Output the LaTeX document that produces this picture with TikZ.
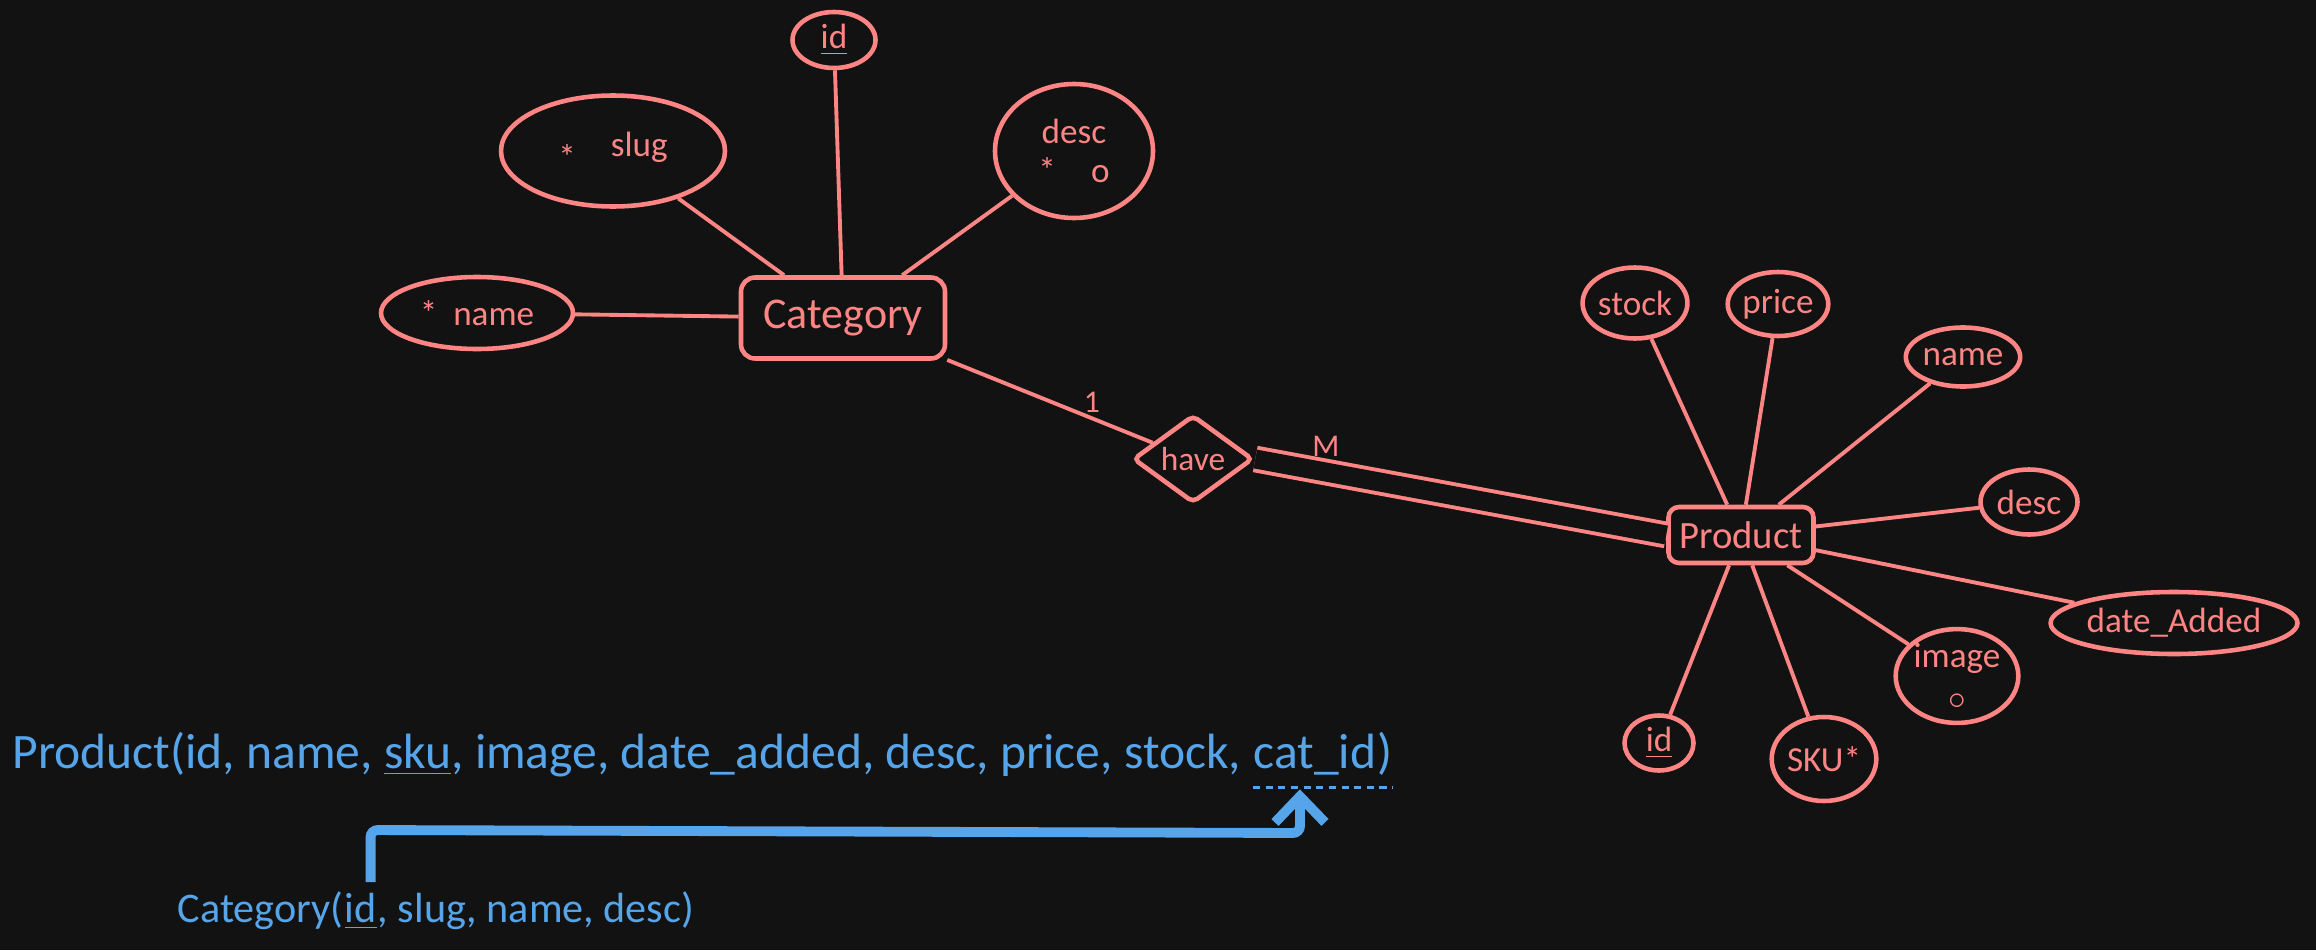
\documentclass[tikz,border=0pt]{standalone}
\usepackage{fontspec}
\setmainfont{Carlito}
\usepackage{xcolor}
\usepackage{tikz}
\usetikzlibrary{arrows.meta, positioning, shapes.geometric}
\definecolor{bg}{HTML}{121212}
\definecolor{erred}{HTML}{FF8585}
\definecolor{erblue}{HTML}{56A5EA}

\begin{document}
\begin{tikzpicture}[x=1mm, y=1mm, font=\fontsize{10}{11}\selectfont,
  ent/.style={draw=erred, text=erred, line width=1.3pt, rounded corners=4pt,
              inner sep=0pt},
  attr/.style={ellipse, draw=erred, text=erred, line width=1.3pt, inner sep=0pt,
               align=center},
  rel/.style={diamond, draw=erred, text=erred, line width=1.3pt, rounded corners=1.5pt,
              minimum width=12mm, minimum height=8.7mm, inner sep=0pt},
  ln/.style={erred, line width=1.1pt},
  card/.style={text=erred, font=\fontsize{9}{10}\selectfont},
  schema/.style={text=erblue, anchor=base west, inner sep=0pt},
  fk/.style={-{Straight Barb[length=2.6mm, width=5mm]}, erblue, line width=2.8pt,
             rounded corners=2pt}
]
\fill[bg] (0,0) rectangle (231.6,-95);

% Category and its attributes
\node[ent, minimum width=20.4mm, minimum height=8.1mm,
      font=\fontsize{12.5}{14}\selectfont] (cat) at (84.3,-31.8) {Category};
\node[attr, minimum width=8.3mm, minimum height=5.6mm] (cid) at (83.4,-4.0) {\underline{id}};
\node[attr, minimum width=22.4mm, minimum height=11.1mm] (cslug) at (61.3,-15.1)
  {\raisebox{-0.8ex}{*}\quad slug};
\node[attr, minimum width=15.8mm, minimum height=13.4mm] (cdesc) at (107.4,-15.1)
  {desc\\[0pt] *\quad o};
\node[attr, minimum width=19.2mm, minimum height=7.2mm] (cname) at (47.7,-31.3) {*\ \ name};

\foreach \a in {cid, cslug, cdesc, cname} \draw[ln] (\a) -- (cat);

% relationship
\node[rel, font=\fontsize{9.5}{10}\selectfont] (have) at (119.3,-45.9) {have};
\node[card] (one) at (109.2,-40.2) {1};
\node[card] (many) at (132.6,-44.6) {M};

% Product and its attributes
\node[ent, rounded corners=3pt, minimum width=14.5mm, minimum height=5.6mm,
      font=\fontsize{11}{12}\selectfont] (prod) at (174.1,-53.5) {Product};
\node[attr, minimum width=9.9mm, minimum height=7.1mm] (pstock) at (163.5,-30.3) {stock};
\node[attr, minimum width=9.2mm, minimum height=6.4mm] (pprice) at (177.8,-30.4) {price};
\node[attr, minimum width=9.6mm, minimum height=5.9mm] (pname) at (196.3,-35.7) {name};
\node[attr, minimum width=9.7mm, minimum height=6.5mm] (pdesc) at (202.9,-50.2) {desc};
\node[attr, minimum width=18.6mm, minimum height=6.2mm] (pdate) at (217.4,-62.3) {date\_Added};
\node[attr, minimum width=11.2mm, minimum height=8.4mm] (pimage) at (195.7,-67.6)
  {image\\[1pt] $\circ$};
\node[attr, minimum width=9.7mm, minimum height=8.4mm] (psku) at (182.4,-75.9) {SKU*};
\node[attr, minimum width=6.9mm, minimum height=5.5mm] (pid) at (165.9,-74.3) {\underline{id}};

\foreach \a in {pstock, pprice, pname, pdesc, pdate, pimage, psku, pid} \draw[ln] (\a) -- (prod);

\draw[ln] (cat) -- (have);
\draw[ln, double=bg, double distance=1.9mm] (have.east) -- (prod.west);

% relational schema
\begin{scope}[font=\fontsize{14.1}{16}\selectfont]
\node[schema] (ps1) at (1.2,-76.8)
  {Product(id, name, \underline{sku}, image, date\_added, desc, price, stock,\ \mbox{}};
\node[schema] (pfk) at (ps1.base east) {cat\_id};
\node[schema] (ps2) at (pfk.base east) {)};
\end{scope}
\draw[erblue, line width=0.8pt, dash pattern=on 2pt off 1.6pt]
  ([yshift=-1.2mm]pfk.south west) -- ([yshift=-1.2mm]pfk.south east -| ps2.east);

\begin{scope}[font=\fontsize{12}{14}\selectfont]
\node[schema] (cs1) at (17.7,-92.2) {Category(};
\node[schema] (cspk) at (cs1.base east) {\underline{id}};
\node[schema] (cs2) at (cspk.base east) {, slug, name, desc)};
\end{scope}

\draw[fk] ([xshift=1mm, yshift=1mm]cspk.north) -- ++(0,5.2) -- (130.0,-83.3)
  -- ([xshift=-1.5mm, yshift=-1.4mm]pfk.south);
\end{tikzpicture}
\end{document}
